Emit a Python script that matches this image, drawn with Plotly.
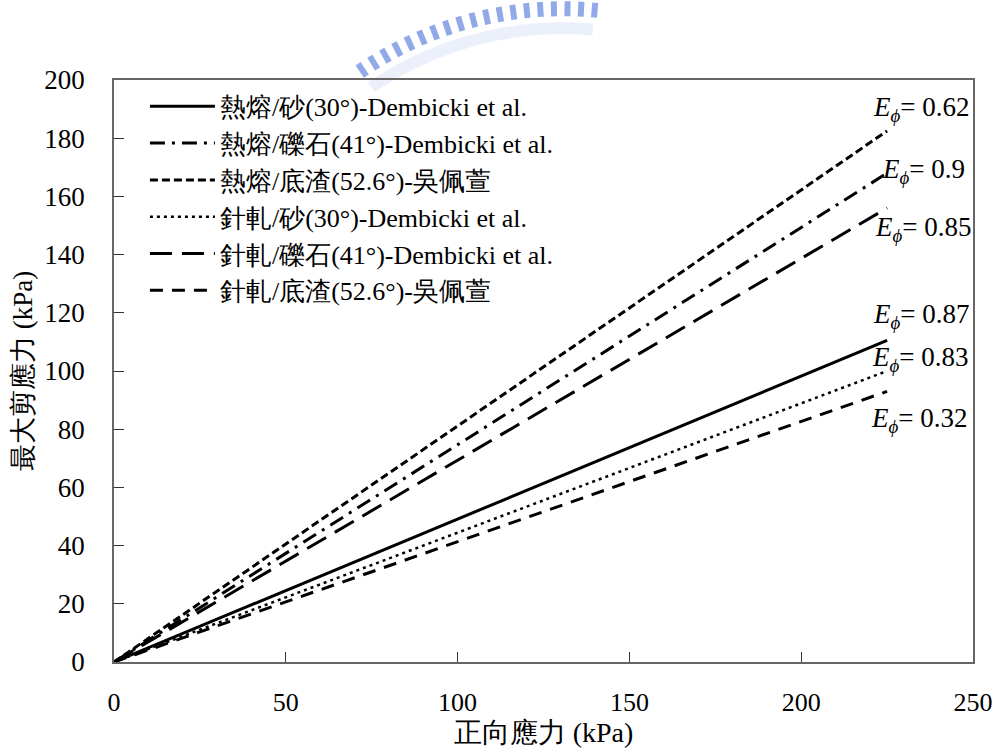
import math
import plotly.graph_objects as go

# Normal stress range for each envelope (kPa)
normal_stress = [0, 225]

# Series names and their maximum shear stress at the ends (kPa)
series_names = [
    "熱熔/砂(30°)-Dembicki et al.",
    "熱熔/礫石(41°)-Dembicki et al.",
    "熱熔/底渣(52.6°)-吳佩萱",
    "針軋/砂(30°)-Dembicki et al.",
    "針軋/礫石(41°)-Dembicki et al.",
    "針軋/底渣(52.6°)-吳佩萱",
]
shear_stress = [
    [0, 110.5],
    [0, 168],
    [0, 182.5],
    [0, 100],
    [0, 156],
    [0, 93],
]
dash_styles = ["solid", "15px,7px,3px,7px", "8px,4px", "3px,4px", "22px,10px", "13px,9px"]

# Efficiency labels placed at the ends of the envelopes
eff_values = ["0.62", "0.9", "0.85", "0.87", "0.83", "0.32"]
eff_x = [220.4, 223.0, 221.0, 220.4, 220.0, 219.6]
eff_y = [190.0, 168.8, 148.8, 118.8, 104.1, 83.2]

SERIF = "Tinos, 'Liberation Serif', 'Times New Roman', 'DejaVu Serif', serif"

W, H = 1005, 751
ML, MR, MT, MB = 113.5, 24, 80, 87
PW, PH = W - ML - MR, H - MT - MB


def to_paper(px, py):
    """Pixel position on the page -> paper coordinates."""
    return (px - ML) / PW, (H - MB - py) / PH


fig = go.Figure()
for name, ys, dash in zip(series_names, shear_stress, dash_styles):
    fig.add_trace(go.Scatter(
        x=normal_stress, y=ys, mode="lines", name=name,
        legendgroup=name,
        line=dict(color="black", width=3 if dash != "3px,4px" else 2.5, dash=dash),
    ))

for val, xv, yv in zip(eff_values, eff_x, eff_y):
    fig.add_annotation(
        x=xv, y=yv, xref="x", yref="y", xanchor="left", yanchor="middle",
        text=f"<i>E</i><sub><i>ϕ</i></sub>= {val}", showarrow=False,
        font=dict(family=SERIF, size=27, color="black"),
    )

# Faint university seal watermark along the top edge of the page
seal_cx, seal_cy = 567, 374
shapes = []
band = []
for k in range(0, 40):
    a = math.radians(85 + k * 1.0)
    band.append(to_paper(seal_cx + 352 * math.cos(a), seal_cy - 352 * math.sin(a)))
for k in range(39, -1, -1):
    a = math.radians(85 + k * 1.0)
    band.append(to_paper(seal_cx + 340 * math.cos(a), seal_cy - 340 * math.sin(a)))
path = "M " + " L ".join(f"{x:.4f},{y:.4f}" for x, y in band) + " Z"
shapes.append(dict(type="path", xref="paper", yref="paper", path=path,
                   fillcolor="rgba(150,172,235,0.18)", line=dict(width=0), layer="below"))
ang = 85.0
while ang <= 124.5:
    a = math.radians(ang)
    x0, y0 = to_paper(seal_cx + 358 * math.cos(a), seal_cy - 358 * math.sin(a))
    x1, y1 = to_paper(seal_cx + 373 * math.cos(a), seal_cy - 373 * math.sin(a))
    shapes.append(dict(type="line", xref="paper", yref="paper", x0=x0, y0=y0, x1=x1, y1=y1,
                       line=dict(color="rgba(110,140,225,0.75)", width=6), layer="below"))
    ang += 2.15

axis_common = dict(
    showgrid=False, zeroline=False, showline=True, mirror=True,
    linecolor="#666666", linewidth=1.5,
    ticks="inside", ticklen=10, tickcolor="#333333", tickwidth=1,
)

fig.update_layout(
    width=W, height=H,
    margin=dict(l=ML, r=MR, t=MT, b=MB),
    paper_bgcolor="white", plot_bgcolor="white",
    font=dict(family=SERIF, color="black"),
    shapes=shapes,
    xaxis=dict(range=[0, 250], dtick=50, ticklabelstandoff=16,
               tickfont=dict(family=SERIF, size=26, color="black"),
               title=dict(text="正向應力 (kPa)", standoff=2,
                          font=dict(family=SERIF, size=28, color="black")),
               **axis_common),
    yaxis=dict(range=[0, 200], dtick=20, ticklabelstandoff=22,
               tickfont=dict(family=SERIF, size=27, color="black"),
               title=dict(text="最大剪應力 (kPa)", standoff=4,
                          font=dict(family=SERIF, size=27, color="black")),
               **axis_common),
    legend=dict(x=0.036, y=0.995, xanchor="left", yanchor="top",
                bgcolor="rgba(0,0,0,0)", borderwidth=0,
                font=dict(family=SERIF, size=26, color="black"),
                itemwidth=65, tracegroupgap=0),
    showlegend=True,
)

fig.write_html("out.html")
